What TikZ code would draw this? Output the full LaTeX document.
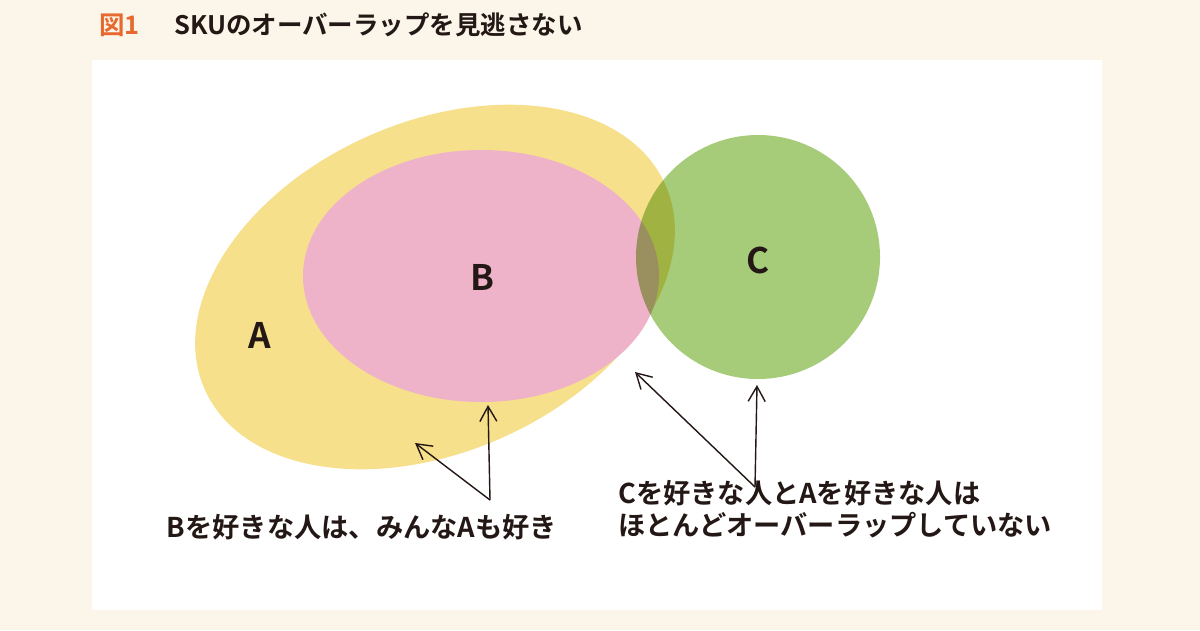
\documentclass[tikz,border=0pt]{standalone}
\usepackage{fontspec}
\setmainfont{Noto Sans CJK JP}
\newfontfamily\jpbold{Noto Sans CJK JP Bold}
\usetikzlibrary{arrows.meta}
\definecolor{cream}{HTML}{FCF5E9}
\definecolor{setA}{HTML}{F6E08C}
\definecolor{setB}{HTML}{EEB3C8}
\definecolor{setC}{HTML}{A6CC7A}
\definecolor{inkdark}{HTML}{231815}
\definecolor{titleorange}{HTML}{E8692E}
\tikzset{
  setlabel/.style={font=\jpbold\fontsize{20}{20}\selectfont, text=inkdark},
  note/.style={font=\jpbold\fontsize{15.5}{18.5}\selectfont, text=inkdark, align=left},
  pointer/.style={-{Straight Barb[length=3mm,width=3.4mm]}, line width=0.8pt, draw=inkdark}
}
\begin{document}
\begin{tikzpicture}[x=0.2mm,y=-0.2mm]
  \fill[cream] (0,0) rectangle (1200,630);
  \fill[white] (92,60) rectangle (1102,610);

  % title
  \node[anchor=west, font=\jpbold\fontsize{14.5}{14.5}\selectfont, text=titleorange] (fig) at (93,25) {図1};
  \node[anchor=west, font=\jpbold\fontsize{14.5}{14.5}\selectfont, text=inkdark] (title) at (168,25) {SKUのオーバーラップを見逃さない};

  % sets
  \fill[setA, rotate around={24:(435,287)}] (435,287) ellipse[x radius=252, y radius=165];
  \fill[setB] (481,276) ellipse[x radius=178, y radius=126];
  \begin{scope}[blend mode=multiply]
    \fill[setC] (758,257) circle[radius=122];
  \end{scope}

  \node[setlabel] (A) at (260,335) {A};
  \node[setlabel] (B) at (482,277) {B};
  \node[setlabel] (C) at (758,260) {C};

  % pointers
  \coordinate (p1) at (490,500);
  \coordinate (a1) at (415,443);
  \coordinate (b1) at (488,405);
  \coordinate (p2) at (755,487);
  \coordinate (a2) at (635,372);
  \coordinate (c2) at (757,385);
  \draw[pointer] (p1) -- (a1);
  \draw[pointer] (p1) -- (b1);
  \draw[pointer] (p2) -- (a2);
  \draw[pointer] (p2) -- (c2);

  \node[note] (noteB) at (362,527) {Bを好きな人は、みんなAも好き};
  \node[note, anchor=north west] (noteC) at (612,474) {Cを好きな人とAを好きな人は\\ほとんどオーバーラップしていない};
\end{tikzpicture}
\end{document}
